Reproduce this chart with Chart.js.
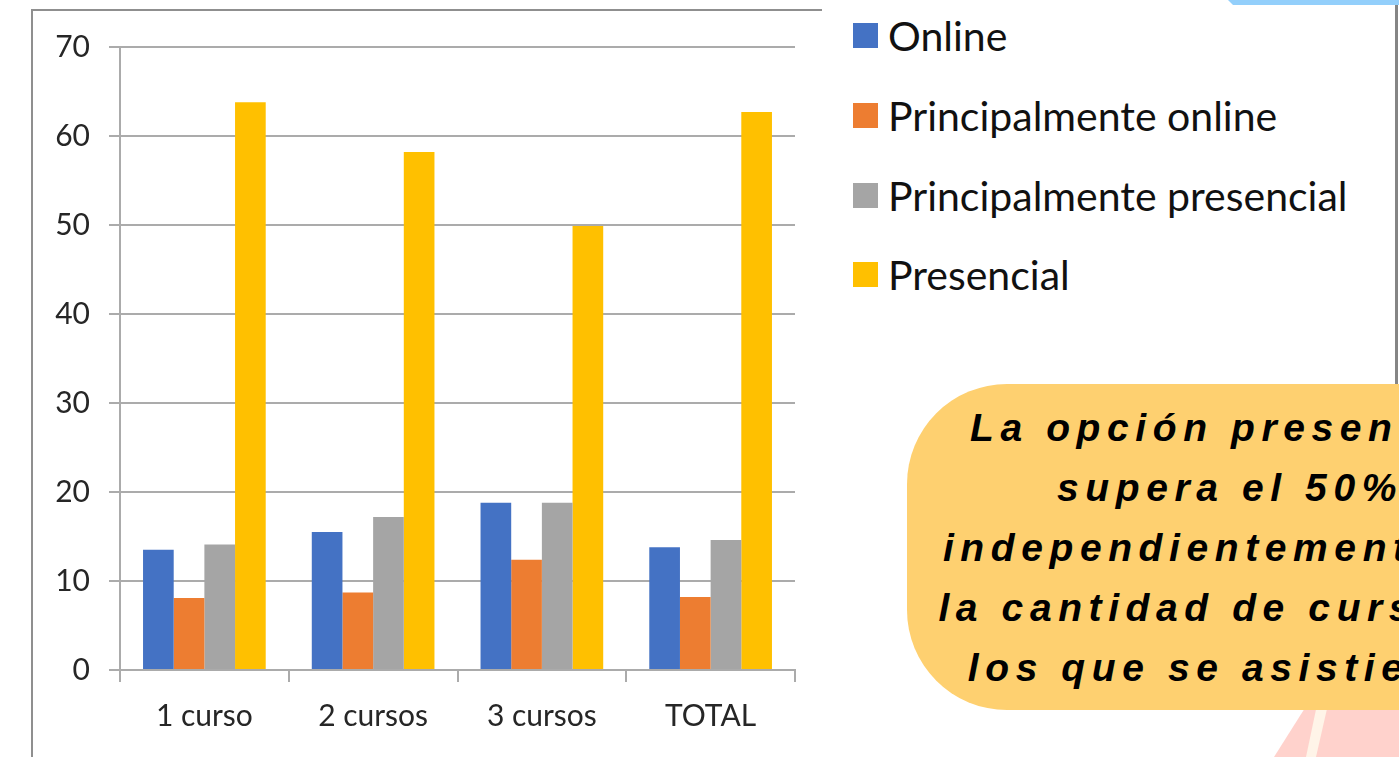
<!DOCTYPE html>
<html lang="es">
<head>
<meta charset="utf-8">
<title>Modalidad por cantidad de cursos</title>
<script src="https://cdn.jsdelivr.net/npm/chart.js@4.4.1/dist/chart.umd.min.js"></script>
<style>
    html, body {
        margin: 0;
        padding: 0;
        background: #ffffff;
    }
    .page {
        position: relative;
        width: 1399px;
        height: 757px;
        overflow: hidden;
        background: #ffffff;
    }
    .frame {
        position: absolute;
        left: 31px;
        top: 9px;
        width: 789px;
        height: 760px;
        border-top: 2px solid #8f8f8f;
        border-left: 2px solid #8f8f8f;
    }
    .chart-box {
        position: absolute;
        left: 32px;
        top: 10px;
        width: 790px;
        height: 747px;
    }
    .legend {
        position: absolute;
        left: 853px;
        top: -4px;
        margin: 0;
        padding: 0;
        list-style: none;
        font-family: Lato, "Noto Sans", sans-serif;
        font-size: 41px;
        color: #111111;
    }
    .legend li {
        display: flex;
        align-items: center;
        height: 79.7px;
        white-space: nowrap;
    }
    .legend .swatch {
        width: 25px;
        height: 25px;
        margin-right: 10px;
        flex: none;
    }
    .edge-right {
        position: absolute;
        left: 1395px;
        top: 0;
        width: 3px;
        height: 384px;
        background: #858585;
    }
    .blue-strip {
        position: absolute;
        left: 1228px;
        top: 0;
        width: 171px;
        height: 5px;
        background: #93cffb;
        clip-path: polygon(0 0, 100% 0, 100% 100%, 5px 100%);
    }
    .pink-shape {
        position: absolute;
        left: 1270px;
        top: 700px;
        width: 129px;
        height: 57px;
        background: #ffd2cc;
        clip-path: polygon(40px 0, 100% 0, 100% 100%, 4px 100%);
    }
    .cream-stripe {
        position: absolute;
        left: 1300px;
        top: 700px;
        width: 40px;
        height: 57px;
        background: #fff4e8;
        clip-path: polygon(18px 0, 29px 0, 16px 100%, 6px 100%);
    }
    .callout {
        position: absolute;
        left: 907px;
        top: 384px;
        width: 660px;
        height: 326px;
        background: #fed070;
        border-radius: 100px;
    }
    .callout p {
        position: absolute;
        left: 0;
        top: 14px;
        width: 646px;
        margin: 0;
        text-align: center;
        white-space: nowrap;
        font-family: "Liberation Sans", Arial, sans-serif;
        font-weight: bold;
        font-style: italic;
        font-size: 39px;
        line-height: 60px;
        letter-spacing: 6.6px;
        color: #000000;
    }
</style>
</head>
<body>
<div class="page">
    <div class="frame"></div>
    <div class="chart-box"><canvas id="modalityChart"></canvas></div>
    <ul class="legend" id="legend"></ul>
    <div class="edge-right"></div>
    <div class="blue-strip"></div>
    <div class="pink-shape"></div>
    <div class="cream-stripe"></div>
    <div class="callout">
        <p>La opción presencial<br>supera el 50%<br>independientemente de<br>la cantidad de cursos a<br>los que se asistieron</p>
    </div>
</div>
<script>
// Chart data
const categories = ['1 curso', '2 cursos', '3 cursos', 'TOTAL'];
const seriesNames = ['Online', 'Principalmente online', 'Principalmente presencial', 'Presencial'];
const online = [13.5, 15.5, 18.8, 13.8];
const mostlyOnline = [8.1, 8.7, 12.4, 8.2];
const mostlyInPerson = [14.1, 17.2, 18.8, 14.6];
const inPerson = [63.8, 58.2, 49.9, 62.7];
const yMax = 70;
const yStep = 10;

document.addEventListener('DOMContentLoaded', () => {
    const colors = ['#4472c4', '#ed7d31', '#a5a5a5', '#ffc000'];
    const values = [online, mostlyOnline, mostlyInPerson, inPerson];
    const gridColor = '#ababab';
    const axisFont = { family: 'Lato, "Noto Sans", sans-serif', size: 30 };

    // Build the HTML legend from the chart's own legend items
    const htmlLegend = {
        id: 'htmlLegend',
        afterUpdate(chart) {
            const list = document.getElementById('legend');
            const items = chart.options.plugins.legend.labels.generateLabels(chart);
            list.innerHTML = items.map(item => `
                <li><span class="swatch" style="background:${item.fillStyle}"></span>${item.text}</li>
            `).join('');
        }
    };

    const ctx = document.getElementById('modalityChart').getContext('2d');
    new Chart(ctx, {
        type: 'bar',
        data: {
            labels: categories,
            datasets: seriesNames.map((name, i) => ({
                label: name,
                data: values[i],
                backgroundColor: colors[i],
                borderWidth: 0,
                categoryPercentage: 0.727,
                barPercentage: 1.0
            }))
        },
        options: {
            responsive: true,
            maintainAspectRatio: false,
            animation: false,
            layout: {
                padding: { top: 37, right: 27, bottom: 0, left: 0 }
            },
            plugins: {
                legend: { display: false },
                tooltip: { enabled: false }
            },
            scales: {
                x: {
                    afterFit: scale => { scale.height = 87; },
                    grid: {
                        offset: true,
                        drawOnChartArea: false,
                        drawTicks: true,
                        tickLength: 12,
                        color: gridColor,
                        lineWidth: 2
                    },
                    border: { color: gridColor, width: 2 },
                    ticks: {
                        color: '#262626',
                        font: axisFont,
                        padding: 16
                    }
                },
                y: {
                    min: 0,
                    max: yMax,
                    afterFit: scale => { scale.width = 88; },
                    grid: {
                        color: gridColor,
                        lineWidth: 2,
                        tickLength: 11
                    },
                    border: { color: gridColor, width: 2 },
                    ticks: {
                        stepSize: yStep,
                        color: '#262626',
                        font: axisFont,
                        padding: 19
                    }
                }
            }
        },
        plugins: [htmlLegend]
    });
});
</script>
</body>
</html>
